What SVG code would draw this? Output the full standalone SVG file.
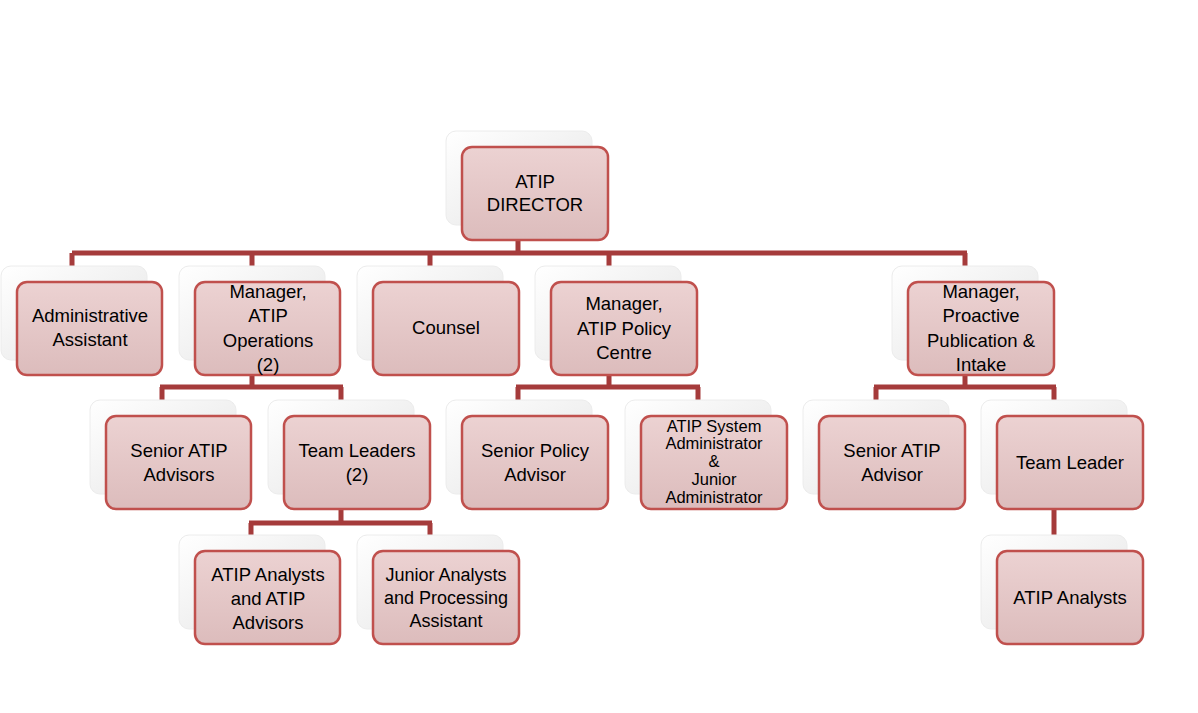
<svg xmlns="http://www.w3.org/2000/svg" width="1198" height="713" viewBox="0 0 1198 713">
<defs>
<linearGradient id="g" x1="0" y1="0" x2="0" y2="1"><stop offset="0" stop-color="#ecd2d2"/><stop offset="1" stop-color="#dcbcbc"/></linearGradient>
<linearGradient id="w" x1="0" y1="0" x2="1" y2="1"><stop offset="0" stop-color="#ffffff"/><stop offset="1" stop-color="#e4e4e4"/></linearGradient>
</defs>
<style>
.s{fill:url(#w);stroke:#ececec;stroke-width:1}
.b{fill:url(#g);stroke:#c0504d;stroke-width:2.5}
.t{font-family:"Liberation Sans",Arial,sans-serif;font-size:18.5px;fill:#000;text-anchor:middle}
.m{font-size:16.5px}
.c{stroke:#a53b3b;stroke-width:5;fill:none}
</style>
<rect width="1198" height="713" fill="#fff"/>
<g id="connectors">
<path class="c" d="M518 238V253M72 253H967M72 253V282M252 253V282M430 253V282M609 253V282M965 253V282"/>
<path class="c" d="M252 373V387M160 387H343M162 387V416M341 387V416"/>
<path class="c" d="M609 373V387M516 387H700M518 387V416M698 387V416"/>
<path class="c" d="M965 373V387M874 387H1056M876 387V416M1054 387V416"/>
<path class="c" d="M341 508V523M249 523H432M251 523V551M430 523V551"/>
<path class="c" d="M1054 508V551"/>
</g>
<g id="n1"><rect class="s" x="446" y="131" width="146" height="94" rx="10"/><rect class="b" x="462" y="147" width="146" height="93" rx="10"/><text class="t" x="535" y="188">ATIP</text><text class="t" x="535" y="211">DIRECTOR</text></g>
<g id="n2"><rect class="s" x="1" y="266" width="146" height="94" rx="10"/><rect class="b" x="17" y="282" width="145" height="93" rx="10"/><text class="t" x="90" y="322">Administrative</text><text class="t" x="90" y="346">Assistant</text></g>
<g id="n3"><rect class="s" x="179" y="266" width="146" height="94" rx="10"/><rect class="b" x="195" y="282" width="145" height="93" rx="10"/><text class="t" x="268" y="298">Manager,</text><text class="t" x="268" y="322">ATIP</text><text class="t" x="268" y="347">Operations</text><text class="t" x="268" y="371">(2)</text></g>
<g id="n4"><rect class="s" x="357" y="266" width="146" height="94" rx="10"/><rect class="b" x="373" y="282" width="146" height="93" rx="10"/><text class="t" x="446" y="334">Counsel</text></g>
<g id="n5"><rect class="s" x="535" y="266" width="146" height="94" rx="10"/><rect class="b" x="551" y="282" width="146" height="93" rx="10"/><text class="t" x="624" y="310">Manager,</text><text class="t" x="624" y="335">ATIP Policy</text><text class="t" x="624" y="359">Centre</text></g>
<g id="n6"><rect class="s" x="892" y="266" width="146" height="94" rx="10"/><rect class="b" x="908" y="282" width="146" height="93" rx="10"/><text class="t" x="981" y="298">Manager,</text><text class="t" x="981" y="322">Proactive</text><text class="t" x="981" y="347">Publication &amp;</text><text class="t" x="981" y="371">Intake</text></g>
<g id="n7"><rect class="s" x="90" y="400" width="146" height="94" rx="10"/><rect class="b" x="106" y="416" width="145" height="93" rx="10"/><text class="t" x="179" y="457">Senior ATIP</text><text class="t" x="179" y="481">Advisors</text></g>
<g id="n8"><rect class="s" x="268" y="400" width="146" height="94" rx="10"/><rect class="b" x="284" y="416" width="146" height="93" rx="10"/><text class="t" x="357" y="457">Team Leaders</text><text class="t" x="357" y="481">(2)</text></g>
<g id="n9"><rect class="s" x="446" y="400" width="146" height="94" rx="10"/><rect class="b" x="462" y="416" width="146" height="93" rx="10"/><text class="t" x="535" y="457">Senior Policy</text><text class="t" x="535" y="481">Advisor</text></g>
<g id="n10"><rect class="s" x="625" y="400" width="146" height="94" rx="10"/><rect class="b" x="641" y="416" width="146" height="93" rx="10"/><text class="t m" x="714" y="432">ATIP System</text><text class="t m" x="714" y="449">Administrator</text><text class="t m" x="714" y="467">&amp;</text><text class="t m" x="714" y="485">Junior</text><text class="t m" x="714" y="503">Administrator</text></g>
<g id="n11"><rect class="s" x="803" y="400" width="146" height="94" rx="10"/><rect class="b" x="819" y="416" width="146" height="93" rx="10"/><text class="t" x="892" y="457">Senior ATIP</text><text class="t" x="892" y="481">Advisor</text></g>
<g id="n12"><rect class="s" x="981" y="400" width="146" height="94" rx="10"/><rect class="b" x="997" y="416" width="146" height="93" rx="10"/><text class="t" x="1070" y="469">Team Leader</text></g>
<g id="n13"><rect class="s" x="179" y="535" width="146" height="94" rx="10"/><rect class="b" x="195" y="551" width="145" height="93" rx="10"/><text class="t" x="268" y="581">ATIP Analysts</text><text class="t" x="268" y="605">and ATIP</text><text class="t" x="268" y="629">Advisors</text></g>
<g id="n14"><rect class="s" x="357" y="535" width="146" height="94" rx="10"/><rect class="b" x="373" y="551" width="146" height="93" rx="10"/><text class="t" x="446" y="581" style="font-size:18px">Junior Analysts</text><text class="t" x="446" y="604" style="font-size:18px">and Processing</text><text class="t" x="446" y="627" style="font-size:18px">Assistant</text></g>
<g id="n15"><rect class="s" x="981" y="535" width="146" height="94" rx="10"/><rect class="b" x="997" y="551" width="146" height="93" rx="10"/><text class="t" x="1070" y="604">ATIP Analysts</text></g>
</svg>
